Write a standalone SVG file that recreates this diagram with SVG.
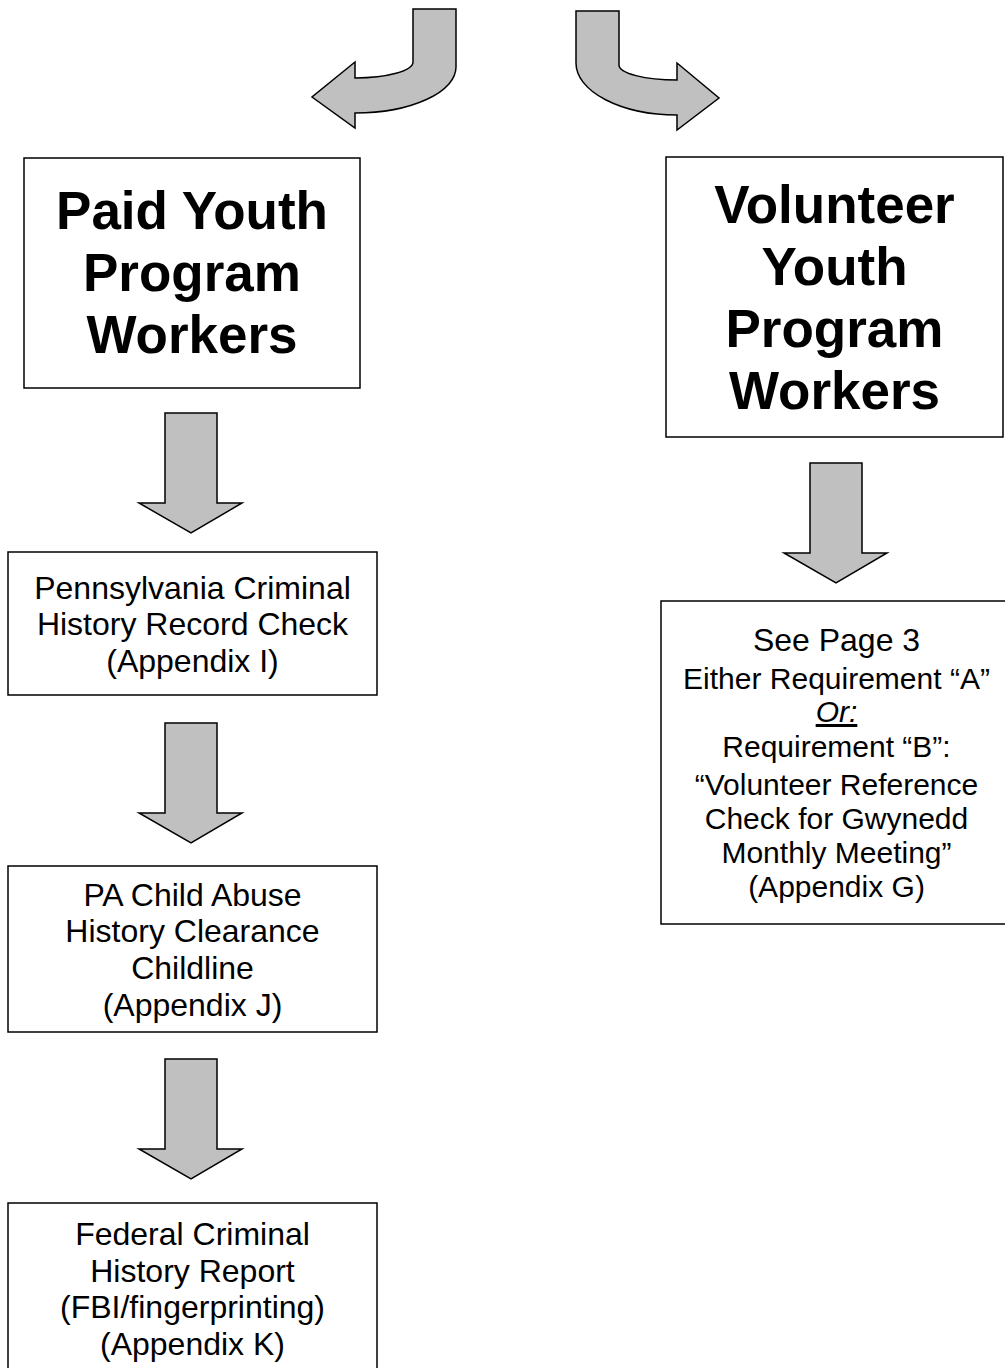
<svg xmlns="http://www.w3.org/2000/svg" width="1005" height="1368" viewBox="0 0 1005 1368">
  <style>
    .box { fill: #ffffff; stroke: #000000; stroke-width: 1.5; }
    .arrow { fill: #c0c0c0; stroke: #000000; stroke-width: 1.5; stroke-linejoin: miter; }
    text { font-family: "Liberation Sans", Arial, sans-serif; fill: #000000; text-anchor: middle; }
    .title { font-size: 53px; font-weight: bold; }
    .body { font-size: 32px; }
    .small { font-size: 30px; }
    .or { font-style: italic; text-decoration: underline; }
  </style>
  <defs>
    <!-- block arrow pointing down, origin at top-left of shaft -->
    <path id="down" d="M0,0 H52 V90 H77 L26,120 L-26,90 H0 Z"/>
  </defs>

  <rect width="1005" height="1368" fill="#ffffff"/>

  <g id="connectors">
    <!-- curved split arrows -->
    <path class="arrow" d="M413,9 H456 V67 A101,46 0 0 1 355,113 V128 L312,97 L355,62 V78 A58,16 0 0 0 413,62 Z"/>
    <path class="arrow" d="M619,11 H576 V63 A101,52 0 0 0 677,115 V130 L719,98 L677,63 V80 A58,15 0 0 1 619,65 Z"/>
    <!-- straight down arrows -->
    <use href="#down" class="arrow" x="165" y="413"/>
    <use href="#down" class="arrow" x="165" y="723"/>
    <use href="#down" class="arrow" x="165" y="1059"/>
    <use href="#down" class="arrow" x="810" y="463"/>
  </g>

  <g id="paid">
    <rect class="box" x="24" y="158" width="336" height="230"/>
    <text class="title" x="192" y="229">Paid Youth</text>
    <text class="title" x="192" y="291">Program</text>
    <text class="title" x="192" y="353">Workers</text>
  </g>

  <g id="volunteer">
    <rect class="box" x="666" y="157" width="337" height="280"/>
    <text class="title" x="834.5" y="223">Volunteer</text>
    <text class="title" x="834.5" y="285">Youth</text>
    <text class="title" x="834.5" y="347">Program</text>
    <text class="title" x="834.5" y="409">Workers</text>
  </g>

  <g id="pa-criminal">
    <rect class="box" x="8" y="552" width="369" height="143"/>
    <text class="body" x="192.5" y="599">Pennsylvania Criminal</text>
    <text class="body" x="192.5" y="635">History Record Check</text>
    <text class="body" x="192.5" y="672">(Appendix I)</text>
  </g>

  <g id="child-abuse">
    <rect class="box" x="8" y="866" width="369" height="166"/>
    <text class="body" x="192.5" y="906">PA Child Abuse</text>
    <text class="body" x="192.5" y="942">History Clearance</text>
    <text class="body" x="192.5" y="979">Childline</text>
    <text class="body" x="192.5" y="1016">(Appendix J)</text>
  </g>

  <g id="federal">
    <rect class="box" x="8" y="1203" width="369" height="175"/>
    <text class="body" x="192.5" y="1245">Federal Criminal</text>
    <text class="body" x="192.5" y="1282">History Report</text>
    <text class="body" x="192.5" y="1318">(FBI/fingerprinting)</text>
    <text class="body" x="192.5" y="1355">(Appendix K)</text>
  </g>

  <g id="volunteer-requirements">
    <rect class="box" x="661" y="601" width="360" height="323"/>
    <text class="body" x="836.5" y="651">See Page 3</text>
    <text class="small" x="836.5" y="689">Either Requirement “A”</text>
    <text class="small or" x="836.5" y="722">Or:</text>
    <text class="small" x="836.5" y="757">Requirement “B”:</text>
    <text class="small" x="836.5" y="795">“Volunteer Reference</text>
    <text class="small" x="836.5" y="829">Check for Gwynedd</text>
    <text class="small" x="836.5" y="863">Monthly Meeting”</text>
    <text class="small" x="836.5" y="897">(Appendix G)</text>
  </g>
</svg>
